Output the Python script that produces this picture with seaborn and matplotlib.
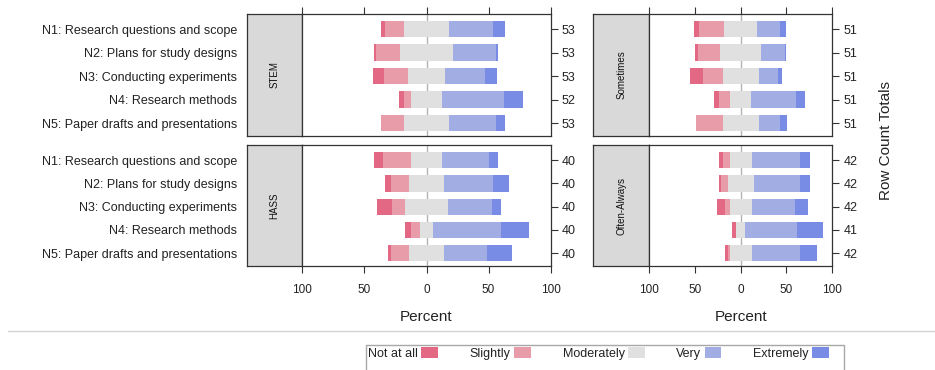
import numpy as np
import pandas as pd
import matplotlib
matplotlib.use("Agg")
import matplotlib.pyplot as plt
import seaborn as sns
from matplotlib.patches import Patch, Rectangle
from matplotlib.lines import Line2D

# ---------------- data ----------------
items = ["N1: Research questions and scope",
         "N2: Plans for study designs",
         "N3: Conducting experiments",
         "N4: Research methods",
         "N5: Paper drafts and presentations"]
levels = ["Not at all", "Slightly", "Moderately", "Very", "Extremely"]
colors = ["#E26884", "#E89BA8", "#E0E0E0", "#A2ADE4", "#788CE6"]

# counts per item (rows N1..N5)
stem_not = [2, 1, 5, 2, 0]
stem_slightly = [8, 10, 10, 3, 10]
stem_moderately = [19, 23, 16, 13, 19]
stem_very = [19, 18, 17, 26, 20]
stem_extremely = [5, 1, 5, 8, 4]

hass_not = [3, 2, 5, 2, 1]
hass_slightly = [9, 6, 4, 3, 6]
hass_moderately = [10, 11, 14, 4, 11]
hass_very = [15, 16, 14, 22, 14]
hass_extremely = [3, 5, 3, 9, 8]

some_not = [3, 2, 7, 3, 0]
some_slightly = [14, 12, 11, 6, 15]
some_moderately = [18, 23, 20, 12, 20]
some_very = [13, 13, 11, 25, 12]
some_extremely = [3, 1, 2, 5, 4]

often_not = [2, 1, 4, 2, 1]
often_slightly = [3, 3, 2, 0, 1]
often_moderately = [10, 12, 10, 4, 10]
often_very = [22, 21, 20, 23, 22]
often_extremely = [5, 5, 6, 12, 8]

x_ticks = [-100, -50, 0, 50, 100]
x_ticklabels = ["100", "50", "0", "50", "100"]

panels = [
    ("STEM", [stem_not, stem_slightly, stem_moderately, stem_very, stem_extremely], 0, 0),
    ("HASS", [hass_not, hass_slightly, hass_moderately, hass_very, hass_extremely], 0, 1),
    ("Sometimes", [some_not, some_slightly, some_moderately, some_very, some_extremely], 1, 0),
    ("Often-Always", [often_not, often_slightly, often_moderately, often_very, often_extremely], 1, 1),
]

# ---------------- style ----------------
sns.set_style("white")
plt.rcParams['font.family'] = ['Liberation Sans', 'DejaVu Sans']
plt.rcParams['text.color'] = '#222222'

W, H = 935, 370
fig = plt.figure(figsize=(W / 100, H / 100), dpi=100)


def fx(px):
    return px / W


def fy(py):
    return 1 - py / H


col_x = {0: (246.7, 302.3, 550.7), 1: (593.3, 649.0, 832.3)}
row_y = {0: (14.0, 136.0), 1: (145.3, 266.0)}
YLIM = (4.55, -0.64)
edge = '#333333'

for name, cnts, c, r in panels:
    xs, xp, xr = col_x[c]
    yt, yb = row_y[r]
    h = (yb - yt) / H

    # strip
    sax = fig.add_axes([fx(xs), fy(yb), fx(xp) - fx(xs), h])
    sax.set_facecolor('#D9D9D9')
    sax.set_xlim(0, 1)
    sax.set_ylim(*YLIM)
    sax.set_xticks([])
    for sp in sax.spines.values():
        sp.set_color(edge)
        sp.set_linewidth(0.9)
    if c == 0:
        sax.set_yticks(range(len(items)))
        sax.set_yticklabels(items, fontsize=9, color='#222222')
        sax.tick_params(axis='y', length=0, pad=7)
    else:
        sax.set_yticks([])
    sax.text(0.5, 0.5, name, rotation=90, ha='center', va='center',
             fontsize=7, transform=sax.transAxes, color='#111111')

    # data
    n_not, n_sl, n_mod, n_very, n_ext = [np.array(v, dtype=float) for v in cnts]
    tot = n_not + n_sl + n_mod + n_very + n_ext
    p = lambda v: v / tot * 100
    half = p(n_mod) / 2
    df = pd.DataFrame({
        "item": items,
        "ext_end": half + p(n_very) + p(n_ext),
        "very_end": half + p(n_very),
        "mod_right": half,
        "not_end": -(half + p(n_sl) + p(n_not)),
        "sl_end": -(half + p(n_sl)),
        "mod_left": -half,
    })

    ax = fig.add_axes([fx(xp), fy(yb), fx(xr) - fx(xp), h])
    ax.axvline(0, color='#B4B4B4', lw=1.0, zorder=0)
    layers = [("ext_end", colors[4]), ("very_end", colors[3]), ("mod_right", colors[2]),
              ("not_end", colors[0]), ("sl_end", colors[1]), ("mod_left", colors[2])]
    for col, colr in layers:
        sns.barplot(data=df, x=col, y="item", orient="h", color=colr, saturation=1,
                    width=0.7, errorbar=None, ax=ax, linewidth=0)

    ax.set_xlim(-100, 100)
    ax.set_ylim(*YLIM)
    ax.set_ylabel("")
    ax.yaxis.tick_right()
    ax.set_yticks(range(len(items)))
    ax.set_yticklabels([str(int(t)) for t in tot], fontsize=9, color='#222222')
    ax.set_xticks(x_ticks)
    ax.tick_params(direction='out', length=5, width=0.8, color=edge, pad=3)
    if r == 0:
        ax.xaxis.tick_top()
        ax.tick_params(axis='x', labeltop=False, labelbottom=False)
        ax.set_xlabel("")
    else:
        ax.xaxis.tick_bottom()
        ax.set_xticklabels(x_ticklabels, fontsize=8.5, color='#222222')
        ax.tick_params(axis='x', pad=8)
        ax.set_xlabel("Percent", fontsize=11, labelpad=10, color='#222222')
    for sp in ax.spines.values():
        sp.set_color(edge)
        sp.set_linewidth(0.9)

fig.text(fx(886), fy(140), "Row Count Totals", rotation=90, ha='center', va='center',
         fontsize=11, color='#222222')

# separator line
fig.add_artist(Line2D([fx(8), 1.0], [fy(330.7), fy(330.7)], color='#D3D3D3', lw=1.0,
                      transform=fig.transFigure))

# legend
handles = [Patch(facecolor=cc, edgecolor='none') for cc in colors]
fig.legend(handles, levels, ncol=5, markerfirst=False, loc='upper left',
           bbox_to_anchor=(fx(368), fy(347)), frameon=False, fontsize=9,
           handlelength=1.35, handleheight=0.95, handletextpad=0.25,
           columnspacing=2.55, borderpad=0, borderaxespad=0)
fig.add_artist(Rectangle((fx(366), -0.05), fx(844) - fx(366), fy(345) + 0.05,
                         fill=False, edgecolor='#A8A8A8', lw=1.0, transform=fig.transFigure))

fig.savefig("out.png", dpi=100)
